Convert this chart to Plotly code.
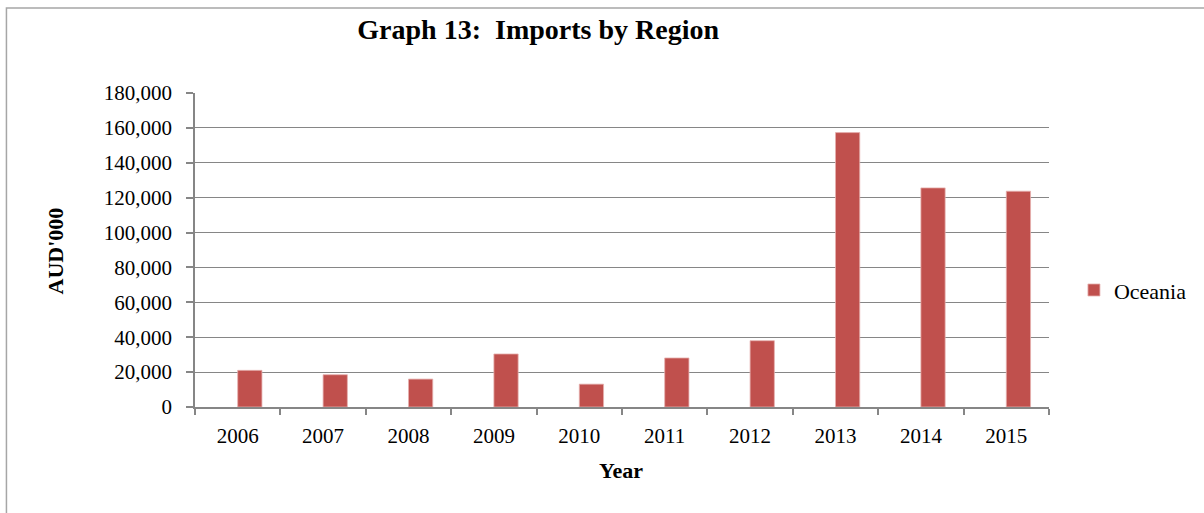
import plotly.graph_objects as go

years = ["2006", "2007", "2008", "2009", "2010", "2011", "2012", "2013", "2014", "2015"]
oceania = [21000, 18500, 16000, 30400, 13100, 28100, 38000, 157300, 125600, 123700]
y_ticks = [0, 20000, 40000, 60000, 80000, 100000, 120000, 140000, 160000, 180000]

FONT = "Liberation Serif"
GRID = "#868686"

fig = go.Figure()

# Excel-style: bar sits just right of the category centre
fig.add_trace(
    go.Bar(
        x=years,
        y=oceania,
        name="Oceania",
        width=0.284,
        offset=0,
        marker=dict(color="#C0504D", line=dict(color="#E6B0AF", width=0.8)),
    )
)

fig.update_layout(
    width=1204,
    height=513,
    margin=dict(l=195, r=153, t=93, b=106),
    paper_bgcolor="white",
    plot_bgcolor="white",
    font=dict(family=FONT, size=21, color="black"),
    title=dict(
        text="<b>Graph 13:  Imports by Region</b>",
        x=0.447, xanchor="center",
        y=1 - 29 / 513, yanchor="middle",
        font=dict(family=FONT, size=28, color="black"),
    ),
    showlegend=True,
    legend=dict(
        x=(1076 - 195) / 856, y=0.372, xanchor="left", yanchor="middle",
        font=dict(family=FONT, size=22),
        itemwidth=30,
    ),
)

fig.update_xaxes(
    type="category",
    range=[-0.5, 9.5],
    showline=True, linecolor=GRID, linewidth=1.5,
    ticks="outside", tickson="boundaries", ticklen=6, tickcolor=GRID, tickwidth=1.5,
    showgrid=False,
    ticklabelstandoff=9,
    tickfont=dict(family=FONT, size=21),
)

fig.update_yaxes(
    range=[0, 180000],
    tickvals=y_ticks,
    tickformat=",d",
    showline=True, linecolor=GRID, linewidth=1.5,
    ticks="outside", ticklen=7, tickcolor=GRID, tickwidth=1.5,
    showgrid=True, gridcolor=GRID, gridwidth=1.3,
    zeroline=False,
    ticklabelstandoff=10,
    tickfont=dict(family=FONT, size=21),
)

# axis titles
fig.add_annotation(
    text="<b>Year</b>", xref="paper", yref="paper",
    x=(622 - 195) / 856, y=(406.7 - 470) / 313.7,
    showarrow=False, font=dict(family=FONT, size=22),
    xanchor="center", yanchor="middle",
)
fig.add_annotation(
    text="<b>AUD'000</b>", xref="paper", yref="paper",
    x=(55 - 195) / 856, y=(406.7 - 251) / 313.7,
    showarrow=False, textangle=-90, font=dict(family=FONT, size=22),
    xanchor="center", yanchor="middle",
)

# chart border
fig.add_shape(
    type="rect", xref="paper", yref="paper",
    x0=(6 - 195) / 856, x1=(1215 - 195) / 856,
    y0=(406.7 - 525) / 313.7, y1=(406.7 - 8) / 313.7,
    line=dict(color="#A6A6A6", width=1.5), layer="below",
)

fig.write_html(
    "out.html",
    config={"displayModeBar": False},
    post_script="document.body.style.margin='0';",
)
